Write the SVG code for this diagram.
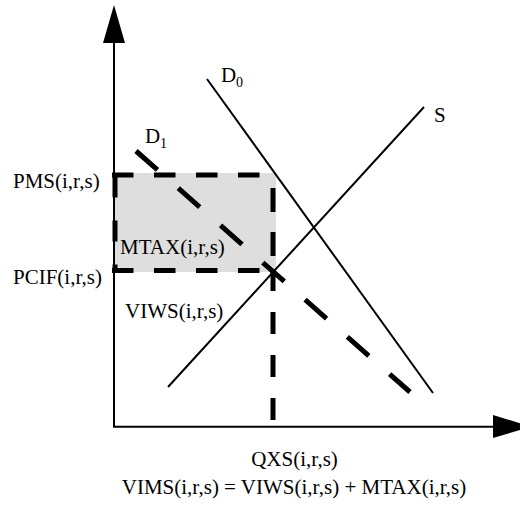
<svg xmlns="http://www.w3.org/2000/svg" width="520" height="506" viewBox="0 0 520 506">
<style>
text{font-family:"Liberation Serif","Times New Roman",serif;font-size:21px;fill:#000}
.sub{font-size:14px}
.axis{stroke:#000;stroke-width:2;fill:none}
.solid{stroke:#000;stroke-width:2;fill:none}
.dash{stroke:#000;stroke-width:5;fill:none}
</style>
<rect width="520" height="506" fill="#fff"/>
<g id="tax-area">
<rect x="114" y="173" width="162" height="99" fill="#dedede"/>
</g>
<g id="connectors">
<line class="axis" x1="114" y1="427" x2="114" y2="40"/>
<polygon points="114,5 103,43 125,43" fill="#000"/>
<line class="axis" x1="113" y1="426.7" x2="496" y2="426.7"/>
<polygon points="531,426.7 493,415 493,438" fill="#000"/>
<line class="solid" x1="207" y1="79" x2="433" y2="393"/>
<line class="solid" x1="424" y1="107" x2="168" y2="387"/>
<line class="dash" x1="136" y1="151" x2="410" y2="392" stroke-dasharray="28.6 27.7"/>
<line class="dash" x1="112" y1="175" x2="273" y2="175" stroke-dasharray="21.5 20.5"/>
<line class="dash" x1="112" y1="270.5" x2="273" y2="270.5" stroke-dasharray="21.5 20.5"/>
<line class="dash" x1="115" y1="176.5" x2="115" y2="272" stroke-dasharray="21 23"/>
<line class="dash" x1="273" y1="188" x2="273" y2="257" stroke-dasharray="24 20"/>
<line class="dash" x1="273" y1="269" x2="273" y2="422" stroke-dasharray="22 21"/>
</g>
<g id="label-D0"><text x="221" y="82">D<tspan class="sub" x="236" y="87">0</tspan></text></g>
<g id="label-D1"><text x="145" y="143">D<tspan class="sub" x="160" y="148">1</tspan></text></g>
<g id="label-S"><text x="434" y="122">S</text></g>
<g id="label-PMS"><text x="13" y="188">PMS(i,r,s)</text></g>
<g id="label-MTAX"><text x="120" y="254">MTAX(i,r,s)</text></g>
<g id="label-PCIF"><text x="13" y="284">PCIF(i,r,s)</text></g>
<g id="label-VIWS"><text x="125" y="318">VIWS(i,r,s)</text></g>
<g id="label-QXS"><text x="294.5" y="466" text-anchor="middle">QXS(i,r,s)</text></g>
<g id="label-VIMS"><text x="294" y="494" text-anchor="middle">VIMS(i,r,s) = VIWS(i,r,s) + MTAX(i,r,s)</text></g>
</svg>
